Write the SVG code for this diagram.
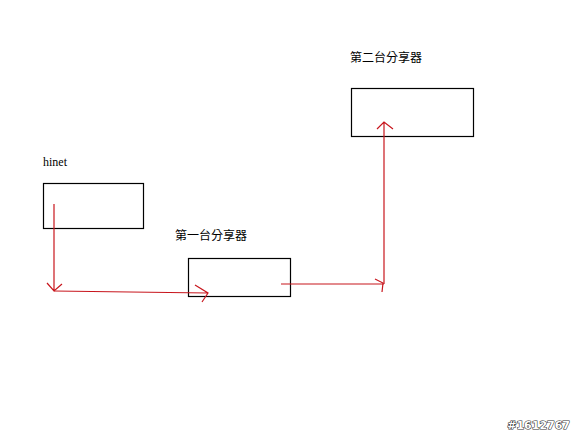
<svg xmlns="http://www.w3.org/2000/svg" width="576" height="432" viewBox="0 0 576 432">
<style>
.box{fill:#fff;stroke:#000;stroke-width:1.2}
.lbl{font-family:"Noto Sans CJK TC","Noto Sans CJK SC",sans-serif;font-size:12px;fill:#000}
.wire{fill:none;stroke:#c8161d;stroke-width:1.2}
</style>
<rect width="576" height="432" fill="#fff"/>
<g id="hinet">
<rect class="box" x="43.5" y="183.5" width="100" height="45"/>
<text x="43" y="166" style="font-family:'Liberation Serif',serif;font-size:12px">hinet</text>
</g>
<g id="router1">
<rect class="box" x="188.5" y="258.5" width="102" height="38"/>
<text class="lbl" x="175" y="240">第一台分享器</text>
</g>
<g id="router2">
<rect class="box" x="351.5" y="88.5" width="122" height="48"/>
<text class="lbl" x="350" y="62">第二台分享器</text>
</g>
<g id="connectors">
<path class="wire" d="M54,204 L54,291 M47,283 L54,291 L62,284"/>
<path class="wire" d="M54,291 L130,292 L208,293 M195,285 L208,293 L202,302"/>
<path class="wire" d="M281,284 L384,284 M375,279 L383,283 L382,292"/>
<path class="wire" d="M384,284 L384,122 M377,129 L384,122 L393,129"/>
</g>
<text x="570" y="429" text-anchor="end" style="font-family:'DejaVu Sans',sans-serif;font-weight:bold;font-size:11px;fill:#fff;stroke:#333;stroke-width:1.2;paint-order:stroke">#1612767</text>
</svg>
